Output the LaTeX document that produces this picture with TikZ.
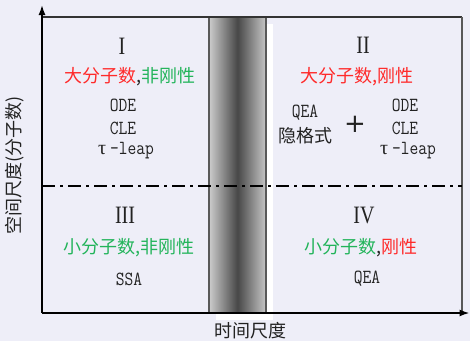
\documentclass[tikz,border=0pt]{standalone}
\usepackage{fontspec}
\usetikzlibrary{arrows.meta}
\newfontfamily\cjk{Noto Sans CJK SC}
\newfontfamily\latmono[FakeStretch=0.85]{Latin Modern Mono}
\newfontfamily\romanf[FakeStretch=0.8]{Liberation Serif}
\newfontfamily\greekf{Liberation Serif}
\newfontfamily\plusf{DejaVu Sans}
\definecolor{bg}{HTML}{EEEEF8}
\definecolor{myred}{HTML}{FF2A2A}
\definecolor{mygreen}{HTML}{22B45A}
\definecolor{txt}{HTML}{222222}
\newcommand{\mytau}{{\greekf\fontsize{20}{20}\selectfont τ}}
\tikzset{
  num/.style={font=\romanf\fontsize{25}{25}\selectfont, inner sep=0pt, text=txt},
  cn/.style={font=\cjk\fontsize{18}{20}\selectfont, inner sep=0pt},
  lat/.style={font=\latmono\fontsize{20}{20}\selectfont, inner sep=0pt, text=txt},
  axisline/.style={line width=1.6pt, black, -{Latex[length=10pt,width=7pt]}},
  frameline/.style={line width=1.3pt, black!80},
  bandedge/.style={line width=1.3pt, black!65},
}
\begin{document}
\begin{tikzpicture}[x=1pt,y=-1pt]
\useasboundingbox (0,0) rectangle (470,341);
\fill[bg] (0,0) rectangle (470,341);
% white strip
\fill[white] (266,24) rectangle (273,320);
\fill[white] (216,313) rectangle (273,320);
% shaded band
\shade[left color=black!20, right color=black!22, middle color=black!72] (209,17) rectangle (266,313);
\draw[bandedge] (209,17) -- (209,313);
\draw[bandedge] (266,17) -- (266,313);
% coordinates
\coordinate (O) at (42,313);
\coordinate (ytop) at (42,5);
\coordinate (xend) at (469.5,313);
\coordinate (TL) at (42,17);
\coordinate (TR) at (462,17);
\coordinate (BR) at (462,313);
\coordinate (DL) at (42,186);
\coordinate (DR) at (462,186);
% frame
\draw[frameline] (TL) -- (TR);
\draw[line width=1.1pt, black!65] (TR) -- (BR);
\draw[line width=1.4pt, black, dash pattern=on 13pt off 5pt on 3pt off 5pt] (DL) -- (DR);
% axes
\draw[axisline] (O) -- (ytop);
\draw[axisline] (O) -- (xend);
% quadrant I
\node[num] (n1) at (122,46) {I};
\node[cn] (c1) at (130,77) {\textcolor{myred}{大分子数}\textcolor{txt}{,}\textcolor{mygreen}{非刚性}};
\node[lat] (o1) at (123,105) {ODE};
\node[lat] (l1) at (123,128) {CLE};
\node[lat] (t1) at (126,151) {\mytau\hspace{4pt}-leap};
% quadrant II
\node[num] (n2) at (363,45) {II};
\node[cn] (c2) at (357,77) {\textcolor{myred}{大分子数,刚性}};
\node[lat] (q2) at (305,113) {QEA};
\node[cn] (y2) at (305,136) {\textcolor{txt}{隐格式}};
\node[font=\plusf\fontsize{26}{26}\selectfont, inner sep=0pt, text=txt] (p2) at (355,124) {+};
\node[lat] (o2) at (405,105) {ODE};
\node[lat] (l2) at (405,128) {CLE};
\node[lat] (t2) at (408,151) {\mytau\hspace{4pt}-leap};
% quadrant III
\node[num] (n3) at (125,215) {III};
\node[cn] (c3) at (129,248) {\textcolor{mygreen}{小分子数,非刚性}};
\node[lat] (s3) at (129,279) {SSA};
% quadrant IV
\node[num] (n4) at (364,215) {IV};
\node[cn] (c4) at (361,248) {\textcolor{mygreen}{小分子数}\textcolor{txt}{,}\textcolor{myred}{刚性}};
\node[lat] (q4) at (367,279) {QEA};
% axis labels
\node[cn, text=txt] (xl) at (250,331) {时间尺度};
\node[cn, text=txt, rotate=90] (yl) at (15,165) {空间尺度(分子数)};
\end{tikzpicture}
\end{document}
